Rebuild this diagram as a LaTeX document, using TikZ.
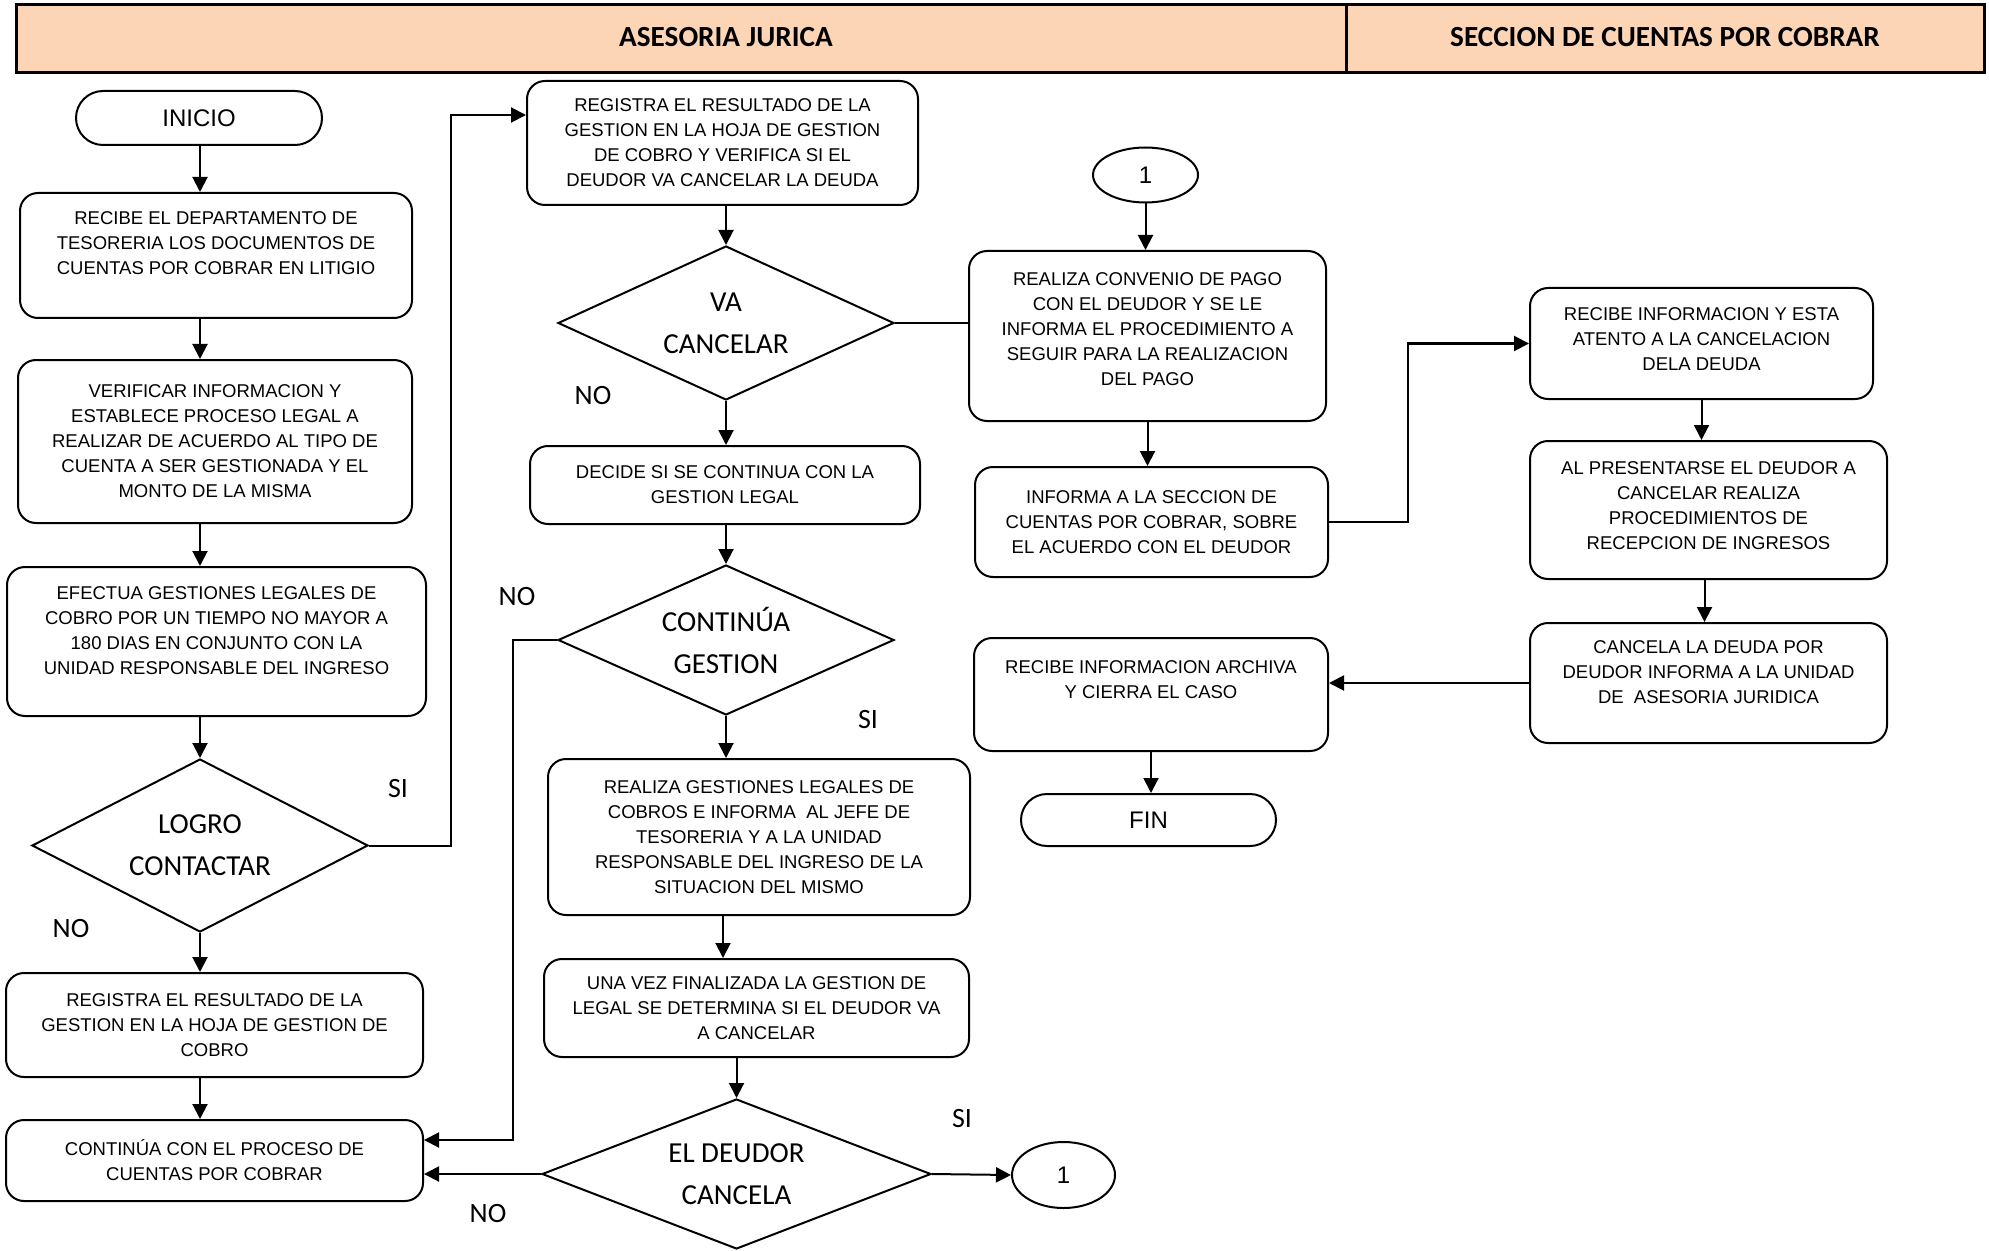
\documentclass[tikz,border=0pt]{standalone}
\usepackage{fontspec}
\setmainfont{Liberation Sans}
\newfontfamily\calibri{Carlito}
\usetikzlibrary{arrows.meta}
\usetikzlibrary{shapes.geometric}
\usetikzlibrary{shapes.misc}
\definecolor{headfill}{HTML}{FBD5B5}
% empty last line, pushes the text up a little
\newcommand{\gap}[1][0pt]{\\[#1]\mbox{}}
\tikzset {
  flow path/.style = {
    draw = black,
    line width = 1pt
  },
  % path style with a tip at the end
  arr/.style = {
    flow path,
    -{Triangle[length=7.5pt,width=7.5pt]}
  },
  % path style with no arrows
  narr/.style = {
    flow path
  }
}
\tikzset {
  flow node/.style = {
    draw = black,
    line width = 1pt,
    align = center,
    inner sep = 0pt
  },
  box size/.style 2 args = {
    minimum width = #1*0.5pt,
    minimum height = #2*0.5pt
  },
  % process step
  proc/.style = {
    flow node,
    rectangle,
    rounded corners = 9pt,
    font = \fontsize{9.25}{12.5}\selectfont
  },
  % decision
  decision/.style = {
    flow node,
    diamond,
    aspect = 2.2,
    font = \calibri\fontsize{14.5}{21}\selectfont
  },
  % start and end
  term/.style = {
    flow node,
    rounded rectangle,
    font = \fontsize{12}{14}\selectfont
  },
  % page connector
  conn/.style = {
    flow node,
    ellipse,
    font = \fontsize{12}{14}\selectfont
  },
  answer/.style = {
    font = \calibri\fontsize{14}{16}\selectfont
  },
  lane head/.style = {
    font = \calibri\bfseries\fontsize{14.6}{16}\selectfont
  }
}

\begin{document}
\begin{tikzpicture}[x=0.5pt, y=-0.5pt]
  \useasboundingbox (0,0) rectangle (1989,1251);

  % lanes
  \draw[fill=headfill, line width=1.5pt] (16,5) rectangle (1984,73);
  \draw[line width=1.5pt] (1346,5) -- (1346,73);
  \node[lane head] (lanelegal) at (726,37) {ASESORIA JURICA};
  \node[lane head] (lanecxc) at (1665,37) {SECCION DE CUENTAS POR COBRAR};

  % first column
  \node[term, box size={246}{54}] (inicio) at (199,118) {INICIO};
  \node[proc, box size={392}{125}] (recibe) at (216,255.5)
    {RECIBE EL DEPARTAMENTO DE\\TESORERIA LOS DOCUMENTOS DE\\CUENTAS POR COBRAR EN LITIGIO\gap};
  \node[proc, box size={394}{163}] (verifica) at (215,441.5)
    {VERIFICAR INFORMACION Y\\ESTABLECE PROCESO LEGAL A\\REALIZAR DE ACUERDO AL TIPO DE\\CUENTA A SER GESTIONADA Y EL\\MONTO DE LA MISMA};
  \node[proc, box size={419}{149}] (efectua) at (216.5,641.5)
    {EFECTUA GESTIONES LEGALES DE\\COBRO POR UN TIEMPO NO MAYOR A\\180 DIAS EN CONJUNTO CON LA\\UNIDAD RESPONSABLE DEL INGRESO\gap[-2pt]};
  \node[decision, box size={336}{173}] (contacto) at (200,845.5) {LOGRO\\CONTACTAR};
  \node[proc, box size={417}{104}] (registra) at (214.5,1025)
    {REGISTRA EL RESULTADO DE LA\\GESTION EN LA HOJA DE GESTION DE\\COBRO};
  \node[proc, box size={417}{81}] (continua) at (214.5,1160.5)
    {CONTIN\'UA CON EL PROCESO DE\\CUENTAS POR COBRAR};

  % second column
  \node[proc, box size={391}{124}] (hoja) at (722.5,143)
    {REGISTRA EL RESULTADO DE LA\\GESTION EN LA HOJA DE GESTION\\DE COBRO Y VERIFICA SI EL\\DEUDOR VA CANCELAR LA DEUDA};
  \node[decision, box size={336}{154}] (vacancel) at (726,323) {VA\\CANCELAR};
  \node[proc, box size={390}{78}] (decide) at (725,485)
    {DECIDE SI SE CONTINUA CON LA\\GESTION LEGAL};
  \node[decision, box size={336}{150}] (sigue) at (726,640) {CONTIN\'UA\\GESTION};
  \node[proc, box size={422}{156}] (gestiones) at (759,837)
    {REALIZA GESTIONES LEGALES DE\\COBROS E INFORMA \ AL JEFE DE\\TESORERIA Y A LA UNIDAD\\RESPONSABLE DEL INGRESO DE LA\\SITUACION DEL MISMO};
  \node[proc, box size={425}{98}] (finaliza) at (756.5,1008)
    {UNA VEZ FINALIZADA LA GESTION DE\\LEGAL SE DETERMINA SI EL DEUDOR VA\\A CANCELAR};
  \node[decision, box size={389}{150}] (cancela) at (736.5,1174) {EL DEUDOR\\CANCELA};
  \node[conn, box size={103}{66}] (unoout) at (1063.5,1175) {1};

  % third column
  \node[conn, box size={105}{55}] (unoin) at (1145.5,175) {1};
  \node[proc, box size={357}{170}] (convenio) at (1147.5,336)
    {REALIZA CONVENIO DE PAGO\\CON EL DEUDOR Y SE LE\\INFORMA EL PROCEDIMIENTO A\\SEGUIR PARA LA REALIZACION\\DEL PAGO\gap[-5.5pt]};
  \node[proc, box size={353}{110}] (informa) at (1151.5,522)
    {INFORMA A LA SECCION DE\\CUENTAS POR COBRAR, SOBRE\\EL ACUERDO CON EL DEUDOR};
  \node[proc, box size={354}{113}] (archiva) at (1151,694.5)
    {RECIBE INFORMACION ARCHIVA\\Y CIERRA EL CASO\gap[2pt]};
  \node[term, box size={255}{52}] (fin) at (1148.5,820) {FIN};

  % cuentas por cobrar
  \node[proc, box size={343}{111}] (atento) at (1701.5,343.5)
    {RECIBE INFORMACION Y ESTA\\ATENTO A LA CANCELACION\\DELA DEUDA\gap[-8pt]};
  \node[proc, box size={357}{138}] (presenta) at (1708.5,510)
    {AL PRESENTARSE EL DEUDOR A\\CANCELAR REALIZA\\PROCEDIMIENTOS DE\\RECEPCION DE INGRESOS\gap[-8pt]};
  \node[proc, box size={357}{120}] (cancdeuda) at (1708.5,683)
    {CANCELA LA DEUDA POR\\DEUDOR INFORMA A LA UNIDAD\\DE \ ASESORIA JURIDICA\gap[-2pt]};

  % answers
  \node[answer] (si1) at (398,789) {SI};
  \node[answer] (no1) at (71,929) {NO};
  \node[answer] (no2) at (593,396) {NO};
  \node[answer] (no3) at (517,597) {NO};
  \node[answer] (si2) at (868,720) {SI};
  \node[answer] (no4) at (488,1213) {NO};
  \node[answer] (si3) at (962,1118) {SI};

  \coordinate (colA) at (200,0);
  \coordinate (siturn) at (451,115);
  \coordinate (noturn) at (513,1140);

  \draw[arr] (inicio.south -| colA) -- (recibe.north -| colA);
  \draw[arr] (recibe.south -| colA) -- (verifica.north -| colA);
  \draw[arr] (verifica.south -| colA) -- (efectua.north -| colA);
  \draw[arr] (efectua.south -| colA) -- (contacto.north);
  \draw[arr] (contacto.east) -| (siturn) -- (siturn -| hoja.west);
  \draw[arr] (contacto.south) -- (contacto.south |- registra.north);
  \draw[arr] (registra.south -| colA) -- (continua.north -| colA);

  \draw[arr] (hoja.south -| vacancel) -- (vacancel.north);
  \draw[narr] (vacancel.east) -- (vacancel.east -| convenio.west);
  \draw[arr] (vacancel.south) -- (vacancel.south |- decide.north);
  \draw[arr] (decide.south -| sigue) -- (sigue.north);
  \draw[arr] (sigue.west) -| (noturn) -- (noturn -| continua.east);
  \draw[arr] (sigue.south) -- (sigue.south |- gestiones.north);
  \draw[arr] ([xshift=-18pt]gestiones.south) -- ([xshift=-18pt]gestiones.south |- finaliza.north);
  \draw[arr] (finaliza.south -| cancela) -- (cancela.north);
  \draw[arr] (cancela.west) -- (cancela.west -| continua.east);
  \draw[arr] (cancela.east) -- (unoout.west);

  \draw[arr] (unoin.south) -- (unoin.south |- convenio.north);
  \draw[arr] (convenio.south) -- (convenio.south |- informa.north);
  \draw[arr] (informa.east) -- ++(79,0) |- (atento.west);
  \draw[arr] (atento.south) -- (atento.south |- presenta.north);
  \draw[arr] ([xshift=-2pt]presenta.south) -- ([xshift=-2pt]presenta.south |- cancdeuda.north);
  \draw[arr] (cancdeuda.west) -- (cancdeuda.west -| archiva.east);
  \draw[arr] (archiva.south) -- (archiva.south |- fin.north);
\end{tikzpicture}
\end{document}
